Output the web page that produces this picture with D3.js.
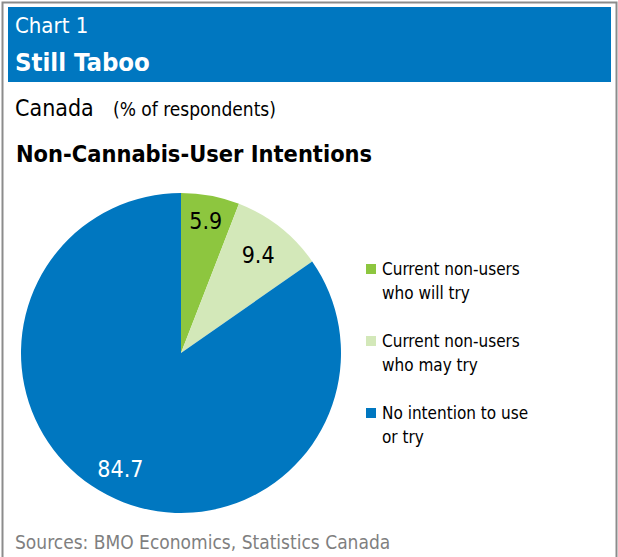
<!DOCTYPE html>
<html><head><meta charset="utf-8">
<script src="https://cdn.jsdelivr.net/npm/d3@7"></script>
<style>body{margin:0;background:#fff}svg{display:block}</style>
</head><body>
<script>
const categories = ["Current non-users who will try", "Current non-users who may try", "No intention to use or try"];
const legendLines = [["Current non-users","who will try"],["Current non-users","who may try"],["No intention to use","or try"]];
const values = [5.9, 9.4, 84.7];
const colors = ["#8dc63f", "#d3e8b9", "#0077c0"];
const labelColors = ["#000", "#000", "#fff"];

const W = 618, H = 557;
const font = "'DejaVu Sans Condensed','DejaVu Sans',sans-serif";
const svg = d3.select("body").append("svg").attr("width", W).attr("height", H);

// outer border
svg.append("rect").attr("x", 2.5).attr("y", 2.5).attr("width", W - 4).attr("height", H + 10)
  .attr("fill", "none").attr("stroke", "#8c8c8c").attr("stroke-width", 2);

// header
svg.append("rect").attr("x", 8).attr("y", 7).attr("width", 603).attr("height", 75).attr("fill", "#0077c0");
svg.append("text").attr("x", 15).attr("y", 33).attr("fill", "#fff").attr("font-family", font)
  .attr("font-size", 22).text("Chart 1");
svg.append("text").attr("x", 15).attr("y", 71).attr("fill", "#fff").attr("font-family", font)
  .attr("font-size", 25.5).attr("font-weight", "bold").text("Still Taboo");

// subtitle
const sub = svg.append("text").attr("x", 15).attr("y", 116).attr("fill", "#000").attr("font-family", font).attr("font-size", 23);
sub.append("tspan").text("Canada");
sub.append("tspan").attr("font-size", 19).attr("x", 113).text("(% of respondents)");

svg.append("text").attr("x", 16).attr("y", 162).attr("fill", "#000").attr("font-family", font)
  .attr("font-size", 23.4).attr("font-weight", "bold").text("Non-Cannabis-User Intentions");

// pie
const cx = 181, cy = 353, r = 160;
const pie = d3.pie().sort(null).value(d => d);
const arcs = pie(values);
const arc = d3.arc().innerRadius(0).outerRadius(r);
const g = svg.append("g").attr("transform", `translate(${cx},${cy})`);
g.selectAll("path").data(arcs).join("path").attr("d", arc).attr("fill", (d, i) => colors[i]);

const labelPos = [
  d3.arc().innerRadius(r*0.84).outerRadius(r*0.84),
  d3.arc().innerRadius(r*0.78).outerRadius(r*0.78),
  d3.arc().innerRadius(r*0.82).outerRadius(r*0.82)
];
g.selectAll("text.lbl").data(arcs).join("text").attr("class", "lbl")
  .attr("transform", (d, i) => `translate(${labelPos[i].centroid(d)})`)
  .attr("text-anchor", "middle").attr("dy", "0.35em")
  .attr("font-family", font).attr("font-size", 23)
  .attr("fill", (d, i) => labelColors[i]).text(d => d.data.toFixed(1));

// legend
const lg = svg.append("g");
const ly = d3.scalePoint().domain(categories).range([269, 413]);
categories.forEach((c, i) => {
  const y = ly(c);
  lg.append("rect").attr("x", 366).attr("y", y - 5).attr("width", 10).attr("height", 10).attr("fill", colors[i]);
  const t = lg.append("text").attr("x", 382).attr("y", y + 6).attr("font-family", font).attr("font-size", 17).attr("fill", "#000");
  legendLines[i].forEach((l, j) => t.append("tspan").attr("x", 382).attr("dy", j ? 24 : 0).text(l));
});

// source
svg.append("text").attr("x", 15).attr("y", 549).attr("fill", "#7f7f7f").attr("font-family", font)
  .attr("font-size", 19).text("Sources: BMO Economics, Statistics Canada");
</script>
</body></html>
